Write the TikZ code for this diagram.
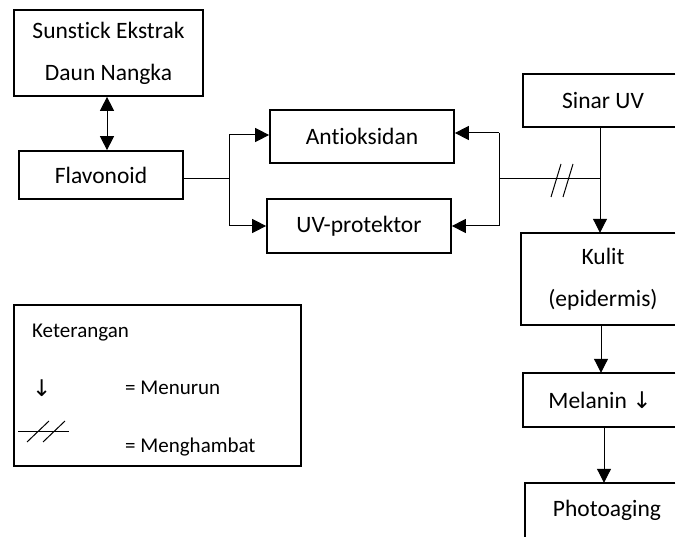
\documentclass[tikz,border=0pt]{standalone}
\usepackage{fontspec}
\setmainfont{Carlito}[Ligatures=NoCommon]
\newfontfamily\symfont{DejaVu Sans}
\usetikzlibrary{arrows.meta}
\newcommand{\dnarrow}{{\symfont\fontsize{23}{23}\selectfont ↓}}
\tikzset{
  box/.style={draw, line width=1.7pt, rectangle, inner sep=0pt, align=center, font=\fontsize{23.5}{42}\selectfont},
  cutbox/.style={rectangle, inner sep=0pt, anchor=west, align=center, font=\fontsize{23.5}{42}\selectfont},
  boxline/.style={line width=1.7pt, line join=miter},
  conn/.style={line width=1pt},
  arr/.style={conn, -{Triangle[length=14pt,width=14pt]}},
  darr/.style={conn, {Triangle[length=14pt,width=14pt]}-{Triangle[length=14pt,width=14pt]}},
  lbl/.style={anchor=west, inner sep=0pt, font=\fontsize{21}{24}\selectfont},
  txt/.style={inner sep=0pt, align=center, font=\fontsize{23.5}{42}\selectfont},
}
\begin{document}
\begin{tikzpicture}[x=1pt,y=-1pt]
\useasboundingbox (0,0) rectangle (678,537);
% boxes
\node[box, minimum width=189pt, minimum height=86pt] (sun) at (108.5,53) {Sunstick Ekstrak\\Daun Nangka};
\node[box, minimum width=164pt, minimum height=48pt] (flav) at (101,175) {Flavonoid};
\node[box, minimum width=184pt, minimum height=53pt] (anti) at (362,136.5) {Antioksidan};
\node[box, minimum width=184pt, minimum height=54pt] (uvp) at (359,226) {UV-protektor};
% boxes cut by the right edge of the picture
\node[cutbox, minimum width=152pt, minimum height=53pt] (sinar) at (523,100.5) {};
\node[cutbox, minimum width=154pt, minimum height=92pt] (kulit) at (521,279) {};
\node[cutbox, minimum width=152pt, minimum height=54pt] (mel) at (523,400) {};
\node[cutbox, minimum width=150pt, minimum height=60pt] (photo) at (525,513) {};
\draw[boxline] (sinar.north east) -- (sinar.north west) -- (sinar.south west) -- (sinar.south east);
\draw[boxline] (kulit.north east) -- (kulit.north west) -- (kulit.south west) -- (kulit.south east);
\draw[boxline] (mel.north east) -- (mel.north west) -- (mel.south west) -- (mel.south east);
\draw[boxline] (photo.north east) -- (photo.north west) -- (photo.south west);
\node[txt] (sinart) at (603,100.5) {Sinar UV};
\node[txt] (kulitt) at (603,279) {Kulit\\(epidermis)};
\node[txt] (melt) at (600,400) {Melanin \dnarrow};
\node[txt] (photot) at (607,510) {Photoaging};
\node[draw, line width=1.7pt, minimum width=287pt, minimum height=161pt, inner sep=0pt] (leg) at (157.5,385.5) {};
% coordinates
\coordinate (j1) at (229,179);
\coordinate (j2) at (499,179);
\coordinate (j3) at (600,179);
% connectors
\draw[darr] (sun.south -| 107,0) -- (flav.north -| 107,0);
\draw[conn] (flav.east |- j1) -- (j1);
\draw[conn] (j1 |- 0,135) -- (j1 |- 0,226);
\draw[arr] (j1 |- 0,135) -- (anti.west |- 0,135);
\draw[arr] (j1 |- 0,226) -- (uvp.west |- 0,226);
\draw[conn] (j2 |- 0,133) -- (j2 |- 0,226);
\draw[arr] (j2 |- 0,133) -- (anti.east |- 0,133);
\draw[arr] (j2 |- 0,226) -- (uvp.east |- 0,226);
\draw[conn] (j2) -- (j3);
\draw[arr] (sinar.south -| j3) -- (kulit.north -| j3);
\draw[arr] (kulit.south -| 601,0) -- (mel.north -| 601,0);
\draw[arr] (mel.south -| 604,0) -- (photo.north -| 604,0);
% inhibition hatch
\draw[conn] (551,197) -- (561,164);
\draw[conn] (563,197) -- (573,164);
% legend
\node[lbl] (k) at (32,333) {Keterangan};
\node[lbl] (a1) at (32,388) {\dnarrow};
\node[lbl] (t1) at (125,388) {= Menurun};
\node[lbl] (t2) at (125,447) {= Menghambat};
\coordinate (h1) at (18,432);
\coordinate (h2) at (69,432);
\draw[conn] (h1) -- (h2);
\draw[conn] (27,442) -- (49,421);
\draw[conn] (43,442) -- (65,421);
\end{tikzpicture}
\end{document}
